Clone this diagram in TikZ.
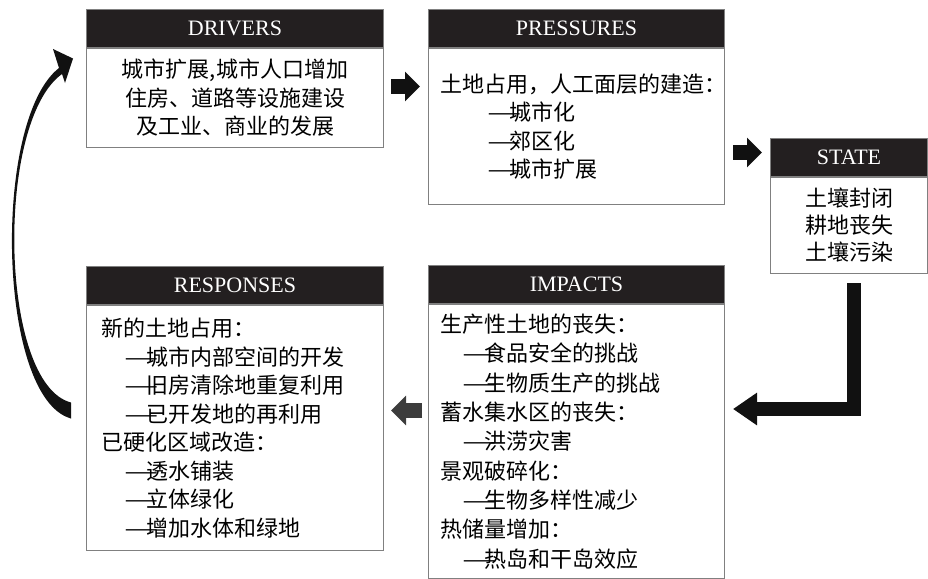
\documentclass[tikz,border=0pt]{standalone}
\usepackage{fontspec}
\setmainfont{Liberation Serif}
\newfontfamily\cjk{Noto Sans CJK SC}
\usetikzlibrary{positioning, arrows.meta}
\definecolor{headfill}{HTML}{231F20}
\definecolor{boxline}{HTML}{808080}
\definecolor{arrfill}{HTML}{111111}
\definecolor{greyfill}{HTML}{3C3C3C}
\newcommand\longdash{\makebox[22pt][l]{\scalebox{1.75}[1]{—}}}

\begin{document}
\begin{tikzpicture}[x=1pt, y=-1pt,
  head/.style={draw=boxline, fill=headfill, text=white, line width=1pt, anchor=north west,
    minimum height=38pt, inner sep=0pt, font=\fontsize{22}{26}\selectfont},
  body/.style={draw=boxline, line width=1pt, anchor=north west, inner ysep=0pt,
    font=\cjk\fontsize{22}{28.5}\selectfont},
  blockarr/.style={arrfill, line width=15pt, -{Triangle[length=15pt, width=29pt]}}]
\useasboundingbox (0,0) rectangle (928,578);

\node[head, minimum width=297pt] (drvhead) at (86,9) {DRIVERS};
\node[body, minimum width=297pt, minimum height=99pt, text width=273pt, align=center] (drv)
  at (drvhead.south west) {城市扩展,城市人口增加\\住房、道路等设施建设\\及工业、商业的发展};

\node[head, minimum width=296pt] (preshead) at (428,9) {PRESSURES};
\node[body, minimum width=296pt, minimum height=156pt, text width=272pt, inner xsep=12pt, align=left] (pres)
  at (preshead.south west) {土地占用，人工面层的建造：\\\hspace*{47pt}\longdash 城市化\\
  \hspace*{47pt}\longdash 郊区化\\\hspace*{47pt}\longdash 城市扩展};

\node[head, minimum width=157pt] (sthead) at (770,138) {STATE};
\node[body, minimum width=157pt, minimum height=96pt, font=\cjk\fontsize{22}{27}\selectfont, align=center] (st)
  at (sthead.south west) {土壤封闭\\耕地丧失\\土壤污染};

\node[head, minimum width=296pt] (imphead) at (428,265) {IMPACTS};
\node[body, minimum width=296pt, minimum height=274pt, text width=272pt, inner xsep=12pt, align=left,
  font=\cjk\fontsize{22}{29.3}\selectfont] (imp)
  at (imphead.south west) {生产性土地的丧失：\\\hspace*{22pt}\longdash 食品安全的挑战\\
  \hspace*{22pt}\longdash 生物质生产的挑战\\蓄水集水区的丧失：\\\hspace*{22pt}\longdash 洪涝灾害\\
  景观破碎化：\\\hspace*{22pt}\longdash 生物多样性减少\\热储量增加：\\\hspace*{22pt}\longdash 热岛和干岛效应};

\node[head, minimum width=297pt] (resphead) at (86,266) {RESPONSES};
\node[body, minimum width=297pt, minimum height=245pt, text width=267pt, inner xsep=15pt, align=left] (resp)
  at (resphead.south west) {新的土地占用：\\\hspace*{23pt}\longdash 城市内部空间的开发\\
  \hspace*{23pt}\longdash 旧房清除地重复利用\\\hspace*{23pt}\longdash 已开发地的再利用\\已硬化区域改造：\\
  \hspace*{23pt}\longdash 透水铺装\\\hspace*{23pt}\longdash 立体绿化\\\hspace*{23pt}\longdash 增加水体和绿地};

\coordinate (a1) at ([xshift=7pt, yshift=11.5pt]drv.east);
\draw[blockarr, shorten >=8pt] (a1) -- (a1 -| pres.west);
\coordinate (a2) at ([xshift=-8pt, yshift=5pt]sthead.west);
\draw[blockarr, shorten <=8pt] (a2 -| pres.east) -- (a2);
\coordinate (a3) at ([xshift=7pt, yshift=17.5pt]resp.east);
\draw[blockarr, greyfill, shorten <=6pt] (a3 -| imp.west) -- (a3);

\coordinate (lstart) at ([xshift=4.5pt, yshift=-9pt]st.south);
\coordinate (lend) at ([xshift=8pt, yshift=32.5pt]imp.east);
\draw[blockarr, line width=14pt, -{Triangle[length=24pt, width=31pt]}] (lstart) |- (lend);

\coordinate (ctailA) at ([xshift=-15pt, yshift=25.5pt]resp.west);
\coordinate (ctailB) at ([xshift=-15pt, yshift=9.5pt]resp.west);
\coordinate (ctip) at ([xshift=-13pt, yshift=-30pt]drvhead.west);
\fill[arrfill] (ctailB) .. controls (-3,398) and (-8,120) .. (59,68) -- (53,49) -- (ctip)
  -- (65,83) -- (62,74) .. controls (-5,122) and (-1,384) .. (ctailA) -- cycle;
\end{tikzpicture}
\end{document}
